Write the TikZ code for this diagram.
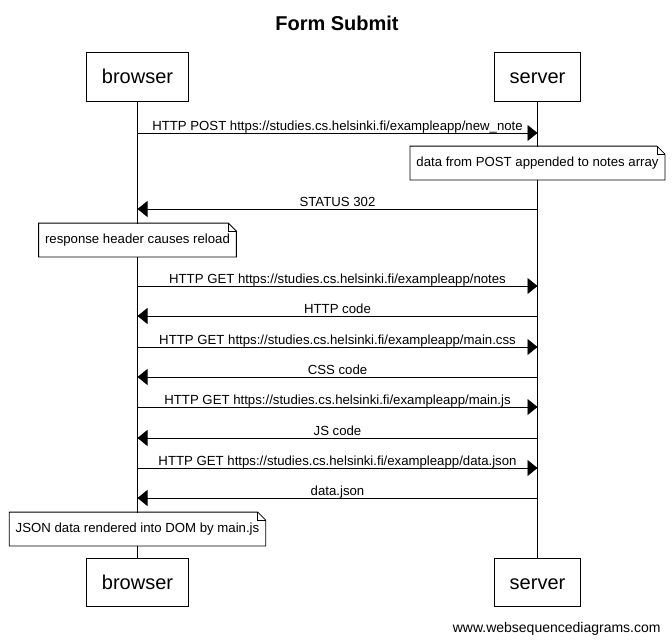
\documentclass[tikz,border=0pt]{standalone}
\usepackage{fontspec}
\setmainfont{Liberation Sans}
\usetikzlibrary{arrows.meta}

\tikzset{
  actor/.style={draw,line width=1pt,fill=white,inner xsep=15pt,minimum height=48pt,text height=14pt,text depth=1pt,font=\fontsize{20}{24}\selectfont},
  msg/.style={line width=0.8pt,-{Triangle[length=10pt,width=16pt]}},
  lbl/.style={anchor=base,yshift=3pt,inner sep=0pt,font=\fontsize{13.2}{15}\selectfont},
  note/.style={fill=white,inner xsep=6pt,minimum height=33pt,font=\fontsize{13.2}{15}\selectfont},
}
\newcommand\notefold[1]{%
  \draw (#1.south west) -- (#1.north west) -- ([xshift=-8pt]#1.north east) -- ([yshift=-8pt]#1.north east) -- (#1.south east) -- cycle;
  \draw ([xshift=-8pt]#1.north east) -- ([xshift=-8pt,yshift=-8pt]#1.north east) -- ([yshift=-8pt]#1.north east);}

\begin{document}
\begin{tikzpicture}[x=1pt,y=-1pt,line width=0.8pt]
    \useasboundingbox (0,0) rectangle (672,642);
    \node[anchor=base,font=\fontsize{20}{24}\selectfont\bfseries] (title) at (337,31) {Form Submit};
    \node[actor] (browser) at (137.5,77) {browser};
    \node[actor] (server) at (537.5,77) {server};
    \node[actor] (browserb) at (137.5,582.5) {browser};
    \node[actor] (serverb) at (537.5,582.5) {server};
    \draw (browser) -- (browserb);
    \draw (server) -- (serverb);
    \foreach \n/\y in {1/133,2/209,3/286,4/316,5/347,6/377,7/407,8/438,9/468,10/498} {
      \coordinate (b\n) at (137.5,\y);
      \coordinate (s\n) at (537.5,\y);
    }
    \draw[msg] (b1) -- node[lbl] {HTTP POST https://studies.cs.helsinki.fi/exampleapp/new\_note} (s1);
    \node[note] (postnote) at (537.5,163) {data from POST appended to notes array};
    \notefold{postnote}
    \draw[msg] (s2) -- node[lbl] {STATUS 302} (b2);
    \node[note] (reloadnote) at (137.5,240) {response header causes reload};
    \notefold{reloadnote}
    \draw[msg] (b3) -- node[lbl] {HTTP GET https://studies.cs.helsinki.fi/exampleapp/notes} (s3);
    \draw[msg] (s4) -- node[lbl] {HTTP code} (b4);
    \draw[msg] (b5) -- node[lbl] {HTTP GET https://studies.cs.helsinki.fi/exampleapp/main.css} (s5);
    \draw[msg] (s6) -- node[lbl] {CSS code} (b6);
    \draw[msg] (b7) -- node[lbl] {HTTP GET https://studies.cs.helsinki.fi/exampleapp/main.js} (s7);
    \draw[msg] (s8) -- node[lbl] {JS code} (b8);
    \draw[msg] (b9) -- node[lbl] {HTTP GET https://studies.cs.helsinki.fi/exampleapp/data.json} (s9);
    \draw[msg] (s10) -- node[lbl] {data.json} (b10);
    \node[note] (domnote) at (137.5,529) {JSON data rendered into DOM by main.js};
    \notefold{domnote}
    \node[anchor=base east,inner sep=0pt,font=\fontsize{14}{16}\selectfont] (credit) at (661,632.5) {www.websequencediagrams.com};
\end{tikzpicture}
\end{document}
